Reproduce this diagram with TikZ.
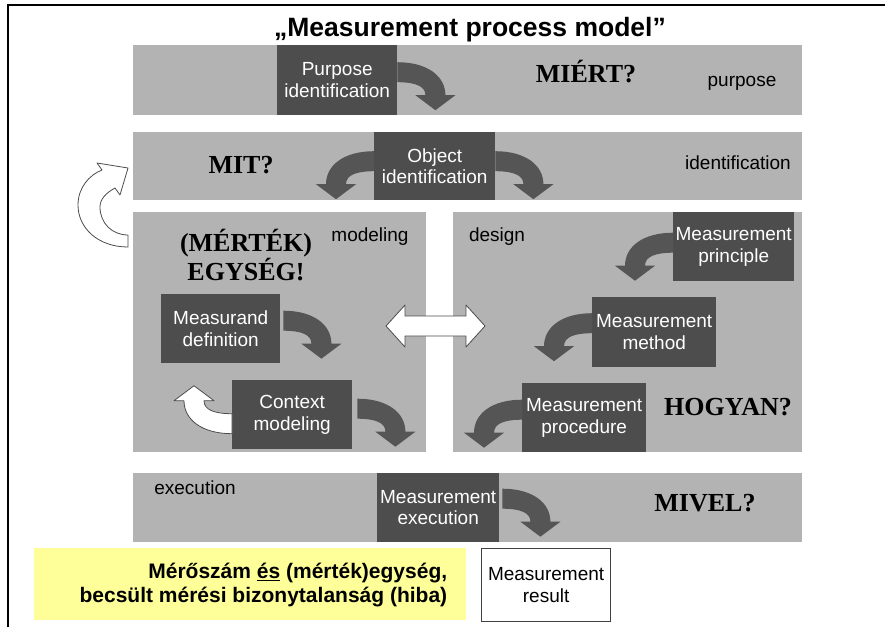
\documentclass[tikz,border=0pt]{standalone}
\usepackage{fontspec}
\setmainfont{Liberation Sans}
\newfontfamily\timesfont{Liberation Serif}
\usetikzlibrary{calc}

\definecolor{bandgray}{HTML}{B3B3B3}
\definecolor{boxdark}{HTML}{4D4D4D}
\definecolor{arrowdark}{HTML}{555555}
\definecolor{notebg}{HTML}{FFFF99}

\tikzset{
  panel/.style={rectangle, fill=bandgray, inner sep=0pt, anchor=north west},
  stepbox/.style={rectangle, fill=boxdark, text=white, inner sep=0pt, anchor=north west,
    align=center, font=\fontsize{19}{21.5}\selectfont},
  lanename/.style={font=\fontsize{19}{21}\selectfont},
  question/.style={font=\timesfont\bfseries\fontsize{26}{28}\selectfont},
  darkarrow/.style={fill=arrowdark},
  whitearrow/.style={fill=white, draw=black!70, line width=0.8pt, line join=round},
  pics/bend/.style={code={
    \path[#1] (0,0) .. controls (30,0) and (48,14) .. (48,33) -- (58,33) -- (38,48)
      -- (18,33) -- (28,33) .. controls (28,24) and (18,20) .. (0,20) -- cycle;
  }},
}

\begin{document}
\begin{tikzpicture}[x=1pt, y=-1pt]
  \useasboundingbox (0,0) rectangle (885,627);
  \draw[line width=1.6pt] (8,627) -- (8,5) -- (885,5);
  \node[font=\bfseries\fontsize{26.5}{28}\selectfont, anchor=base] (title) at (470,36)
    {„Measurement process model”};

  % purpose
  \node[panel, minimum width=669pt, minimum height=70pt] (purpband) at (133,45) {};
  \node[stepbox, minimum width=120pt, minimum height=70pt] (purp) at (277,45) {Purpose\\identification};
  \pic at ($(purp.east)+(0,-18)$) {bend=darkarrow};
  \node[question] (miert) at (586,72) {MIÉRT?};
  \node[lanename] (purplane) at (742,83) {purpose};

  % identification
  \node[panel, minimum width=669pt, minimum height=68pt] (identband) at (133,132) {};
  \node[stepbox, minimum width=121pt, minimum height=68pt] (obj) at (374,132) {Object\\identification};
  \pic at ($(obj.east)+(0,-15)$) {bend=darkarrow};
  \pic[xscale=-1] at ($(obj.west)+(0,-15)$) {bend=darkarrow};
  \node[question] (mit) at (241,165) {MIT?};
  \node[lanename] (identlane) at (738,163) {identification};

  % back to identification
  \path[whitearrow] (128,247) .. controls (98,247) and (78,228) .. (78,205)
    .. controls (78,188) and (89,175) .. (102,170) -- (97,163) -- (128,168) -- (120,195)
    -- (115,188) .. controls (106,193) and (100,199) .. (100,207)
    .. controls (100,223) and (112,235) .. (128,235) -- cycle;

  % modeling
  \node[panel, minimum width=293pt, minimum height=240pt] (model) at (133,212) {};
  \node[question, align=center, font=\timesfont\bfseries\fontsize{26}{25}\selectfont] (unit) at (246,255)
    {(MÉRTÉK)\\EGYSÉG!};
  \node[lanename] (modellane) at (370,237) {modeling};
  \node[stepbox, minimum width=119pt, minimum height=69pt] (meas) at (161,294) {Measurand\\definition};
  \pic at ($(meas.east)+(3,-18)$) {bend=darkarrow};
  \node[stepbox, minimum width=120pt, minimum height=69pt] (ctx) at (232,380) {Context\\modeling};
  \pic at ($(ctx.east)+(5,-16)$) {bend=darkarrow};
  \pic[xscale=-1, yscale=-1] at ($(ctx.west)+(0,19)$) {bend=whitearrow};

  % design
  \node[panel, minimum width=349pt, minimum height=240pt] (design) at (453,212) {};
  \node[lanename] (designlane) at (497,237) {design};
  \node[stepbox, minimum width=121pt, minimum height=69pt] (princ) at (673,212) {Measurement\\principle};
  \pic[xscale=-1] at ($(princ.west)+(0,-14)$) {bend=darkarrow};
  \node[stepbox, minimum width=124pt, minimum height=70pt] (meth) at (592,297) {Measurement\\method};
  \pic[xscale=-1] at ($(meth.west)+(0,-19)$) {bend=darkarrow};
  \node[stepbox, minimum width=124pt, minimum height=69pt] (proc) at (522,383) {Measurement\\procedure};
  \pic[xscale=-1] at ($(proc.west)+(0,-18)$) {bend=darkarrow};
  \node[question] (hogyan) at (728,407) {HOGYAN?};

  % modeling <-> design
  \path[whitearrow] (386,326) -- (405,305) -- (405,316) -- (466,316) -- (466,305) -- (485,326)
    -- (466,347) -- (466,336) -- (405,336) -- (405,347) -- cycle;

  % execution
  \node[panel, minimum width=669pt, minimum height=69pt] (execband) at (133,473) {};
  \node[lanename] (execlane) at (195,488) {execution};
  \node[stepbox, minimum width=122pt, minimum height=69pt] (exec) at (377,473) {Measurement\\execution};
  \pic at ($(exec.east)+(3,-19)$) {bend=darkarrow};
  \node[question] (mivel) at (705,503) {MIVEL?};

  % result
  \node[rectangle, fill=notebg, inner sep=0pt, anchor=north west, minimum width=432pt,
    minimum height=72pt] (note) at (34,548) {};
  \node[anchor=east, align=right, inner sep=0pt, font=\bfseries\fontsize{21}{23.5}\selectfont]
    (notetext) at ($(note.east)+(-19,1)$)
    {Mérőszám \underline{és} (mérték)egység,\\becsült mérési bizonytalanság (hiba)};
  \node[rectangle, draw=black!75, line width=1.2pt, fill=white, inner sep=0pt, anchor=north west,
    minimum width=129pt, minimum height=73pt, align=center, font=\fontsize{19}{22}\selectfont]
    (result) at (481,548) {Measurement\\result};
\end{tikzpicture}
\end{document}
